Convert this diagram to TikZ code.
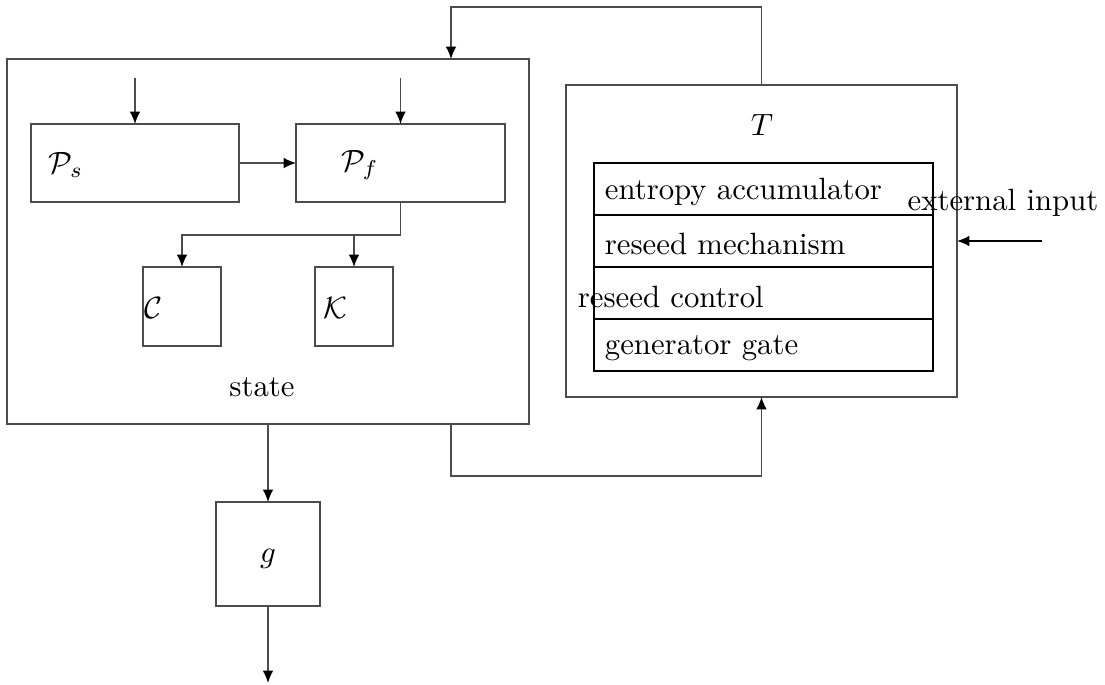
\documentclass[tikz,border=0pt]{standalone}
\usetikzlibrary{arrows.meta}
\begin{document}
\begin{tikzpicture}[x=0.325pt,y=-0.325pt,
  box/.style={draw=black!70, inner sep=0pt, outer sep=0pt},
  wh/.style 2 args={minimum width=#1*0.325pt, minimum height=#2*0.325pt},
  arr/.style={draw=black!70, -{Latex[length=4pt,width=3.4pt,fill=black,color=black]}},
  row/.style={box, draw=black, wh={339}{52}},
  rowtext/.style={anchor=west}]
\useasboundingbox (0,0) rectangle (1105,684);
% state block
\node[box, wh={522}{365}] (state) at (268,241.5) {};
\node (statelbl) at (262,387) {state};
\node[box, wh={208}{78}] (Ps) at (135,163) {};
\node[box, wh={209}{78}] (Pf) at (400.5,163) {};
\node[box, wh={78}{79}] (C) at (182,306.5) {};
\node[box, wh={78}{79}] (K) at (354,306.5) {};
\node (Pslbl) at (66,165) {$\mathcal{P}_s$};
\node (Pflbl) at (360,165) {$\mathcal{P}_f$};
\node (Clbl) at (153,308) {$\mathcal{C}$};
\node (Klbl) at (335,308) {$\mathcal{K}$};
% T block
\node[box, wh={391}{312}] (T) at (761.5,241) {};
\node (Tlbl) at (762,125) {$T$};
\node[row] (r1) at (763.5,189) {};
\node[row] (r2) at (763.5,241) {};
\node[row] (r3) at (763.5,293) {};
\node[row] (r4) at (763.5,345) {};
\node[rowtext] (t1) at (594,192) {entropy accumulator};
\node[rowtext] (t2) at (594,244) {reseed mechanism};
\node[rowtext] (t3) at (567,297) {reseed control};
\node[rowtext] (t4) at (594,348) {generator gate};
\node (extlbl) at (1003,203) {external input};
% g block
\node[box, wh={104}{104}] (g) at (268,554) {};
\node (glbl) at (268,559) {$g$};
% coordinates
\coordinate (inPs) at (135,78);
\coordinate (inPf) at (400.5,78);
\coordinate (ext) at (1042,241);
\coordinate (out) at (268,683);
\coordinate (fbx) at (451,0);
\coordinate (split) at (400.5,235);
% connectors
\draw[arr] (inPs) -- (Ps.north);
\draw[arr] (inPf) -- (Pf.north);
\draw[arr] (Ps.east) -- (Pf.west);
\draw[arr] (Pf.south) -- (split) -| (C.north);
\draw[arr] (K.north |- split) -- (K.north);
\draw[arr, draw=black] (ext) -- (T.east |- ext);
\draw[arr] (state.south) -- (g.north);
\draw[arr] (g.south) -- (out);
\draw[arr] (state.south -| fbx) -- (451,476) -| (T.south);
\draw[arr] (T.north) -- (761.5,7) -| (state.north -| fbx);
\end{tikzpicture}
\end{document}
